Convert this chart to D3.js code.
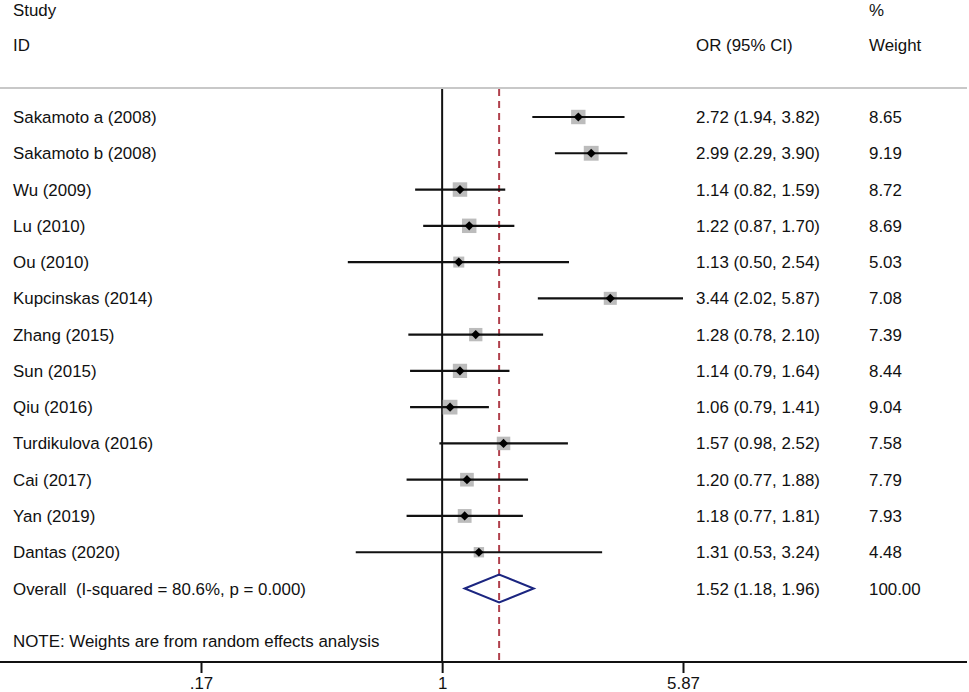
<!DOCTYPE html>
<html>
<head>
<meta charset="utf-8">
<script src="https://cdn.jsdelivr.net/npm/d3@7"></script>
<style>
  html, body { margin: 0; padding: 0; background: #fff; }
  svg { display: block; font-family: "Liberation Sans", Arial, sans-serif; }
  .label { font-size: 16.9px; fill: #111; white-space: pre; }
  .tick text { font-size: 16.9px; fill: #111; font-family: "Liberation Sans", Arial, sans-serif; }
</style>
</head>
<body>
<svg id="chart" width="969" height="692"></svg>
<script>
// Forest plot: odds ratios per study with random effects pooled estimate.

const studies = [
  "Sakamoto a (2008)", "Sakamoto b (2008)", "Wu (2009)", "Lu (2010)", "Ou (2010)",
  "Kupcinskas (2014)", "Zhang (2015)", "Sun (2015)", "Qiu (2016)", "Turdikulova (2016)",
  "Cai (2017)", "Yan (2019)", "Dantas (2020)"
];
const oddsRatios = [2.72, 2.99, 1.14, 1.22, 1.13, 3.44, 1.28, 1.14, 1.06, 1.57, 1.20, 1.18, 1.31];
const ciLower = [1.94, 2.29, 0.82, 0.87, 0.50, 2.02, 0.78, 0.79, 0.79, 0.98, 0.77, 0.77, 0.53];
const ciUpper = [3.82, 3.90, 1.59, 1.70, 2.54, 5.87, 2.10, 1.64, 1.41, 2.52, 1.88, 1.81, 3.24];
const weights = [8.65, 9.19, 8.72, 8.69, 5.03, 7.08, 7.39, 8.44, 9.04, 7.58, 7.79, 7.93, 4.48];

const overallLabel = "Overall  (I-squared = 80.6%, p = 0.000)";
const overallOR = 1.52;
const overallLower = 1.18;
const overallUpper = 1.96;
const overallWeight = 100.00;

const tickValues = [0.17, 1, 5.87];
const tickLabels = [".17", "1", "5.87"];

(function drawForest() {
  "use strict";

  const svg = d3.select("#chart");
  const width = 969;
  const axisY = 662;
  const topLineY = 88;
  const orX = 696;
  const weightX = 869;
  const labelX = 13;

  const xScale = d3.scaleLog().domain([0.17, 5.87]).range([201, 683]);
  const yScale = d3.scaleLinear().domain([0, studies.length]).range([117, 588.5]);
  const fmt = d3.format(".2f");

  // Header
  svg.append("text").attr("class", "label").attr("x", labelX).attr("y", 16).text("Study");
  svg.append("text").attr("class", "label").attr("x", labelX).attr("y", 51).text("ID");
  svg.append("text").attr("class", "label").attr("x", weightX).attr("y", 16).text("%");
  svg.append("text").attr("class", "label").attr("x", weightX).attr("y", 51).text("Weight");
  svg.append("text").attr("class", "label").attr("x", orX).attr("y", 51).text("OR (95% CI)");

  // Top rule
  svg.append("line")
    .attr("x1", 0).attr("x2", width - 2)
    .attr("y1", topLineY).attr("y2", topLineY)
    .attr("stroke", "#c8c8c8").attr("stroke-width", 2);

  // No-effect line
  svg.append("line")
    .attr("x1", xScale(1)).attr("x2", xScale(1))
    .attr("y1", topLineY + 1).attr("y2", axisY)
    .attr("stroke", "#111").attr("stroke-width", 2);

  // Overall effect dashed line
  svg.append("line")
    .attr("x1", xScale(overallOR)).attr("x2", xScale(overallOR))
    .attr("y1", topLineY + 1).attr("y2", axisY)
    .attr("stroke", "#b0404c").attr("stroke-width", 2)
    .attr("stroke-dasharray", "7,5");

  const rows = studies.map(function buildRow(name, i) {
    return { name: name, or: oddsRatios[i], lo: ciLower[i], hi: ciUpper[i], w: weights[i], i: i };
  });

  // Weight boxes
  svg.selectAll(".wbox")
    .data(rows)
    .enter()
    .append("rect")
    .attr("class", "wbox")
    .attr("x", function (d) { return xScale(d.or) - 2.45 * Math.sqrt(d.w); })
    .attr("y", function (d) { return yScale(d.i) - 2.45 * Math.sqrt(d.w); })
    .attr("width", function (d) { return 4.9 * Math.sqrt(d.w); })
    .attr("height", function (d) { return 4.9 * Math.sqrt(d.w); })
    .attr("fill", "#bcbcbc");

  // Confidence intervals
  svg.selectAll(".ci")
    .data(rows)
    .enter()
    .append("line")
    .attr("class", "ci")
    .attr("x1", function (d) { return xScale(d.lo); })
    .attr("x2", function (d) { return xScale(d.hi); })
    .attr("y1", function (d) { return yScale(d.i); })
    .attr("y2", function (d) { return yScale(d.i); })
    .attr("stroke", "#111").attr("stroke-width", 2.2);

  // Point estimates
  svg.selectAll(".pt")
    .data(rows)
    .enter()
    .append("path")
    .attr("class", "pt")
    .attr("d", function (d) {
      const cx = xScale(d.or), cy = yScale(d.i), r = 4.6;
      return "M" + (cx - r) + "," + cy + "L" + cx + "," + (cy - r) + "L" + (cx + r) + "," + cy + "L" + cx + "," + (cy + r) + "Z";
    })
    .attr("fill", "#000");

  // Row labels and values
  svg.selectAll(".name")
    .data(rows)
    .enter()
    .append("text")
    .attr("class", "label name")
    .attr("x", labelX)
    .attr("y", function (d) { return yScale(d.i) + 6; })
    .text(function (d) { return d.name; });

  svg.selectAll(".orText")
    .data(rows)
    .enter()
    .append("text")
    .attr("class", "label orText")
    .attr("x", orX)
    .attr("y", function (d) { return yScale(d.i) + 6; })
    .text(function (d) { return fmt(d.or) + " (" + fmt(d.lo) + ", " + fmt(d.hi) + ")"; });

  svg.selectAll(".wText")
    .data(rows)
    .enter()
    .append("text")
    .attr("class", "label wText")
    .attr("x", weightX)
    .attr("y", function (d) { return yScale(d.i) + 6; })
    .text(function (d) { return fmt(d.w); });

  // Overall row
  const oy = yScale(studies.length);
  const diamond = [
    [xScale(overallLower), oy], [xScale(overallOR), oy - 14],
    [xScale(overallUpper), oy], [xScale(overallOR), oy + 14]
  ];
  svg.append("path")
    .attr("d", "M" + diamond.map(function (p) { return p.join(","); }).join("L") + "Z")
    .attr("fill", "none").attr("stroke", "#1b2580").attr("stroke-width", 2);

  svg.append("text").attr("class", "label").attr("x", labelX).attr("y", oy + 6).text(overallLabel);
  svg.append("text").attr("class", "label").attr("x", orX).attr("y", oy + 6)
    .text(fmt(overallOR) + " (" + fmt(overallLower) + ", " + fmt(overallUpper) + ")");
  svg.append("text").attr("class", "label").attr("x", weightX).attr("y", oy + 6).text(fmt(overallWeight));

  svg.append("text").attr("class", "label").attr("x", labelX).attr("y", 647)
    .text("NOTE: Weights are from random effects analysis");

  // X axis
  const axis = svg.append("g")
    .attr("transform", "translate(0," + axisY + ")")
    .call(d3.axisBottom(xScale)
      .tickValues(tickValues)
      .tickFormat(function (d, i) { return tickLabels[i]; })
      .tickSize(11)
      .tickPadding(4));
  axis.select(".domain").remove();
  axis.selectAll(".tick line").attr("stroke", "#111").attr("stroke-width", 2);
  axis.append("line")
    .attr("x1", 0).attr("x2", width - 2)
    .attr("y1", 0).attr("y2", 0)
    .attr("stroke", "#111").attr("stroke-width", 2);
})();
</script>
</body>
</html>
